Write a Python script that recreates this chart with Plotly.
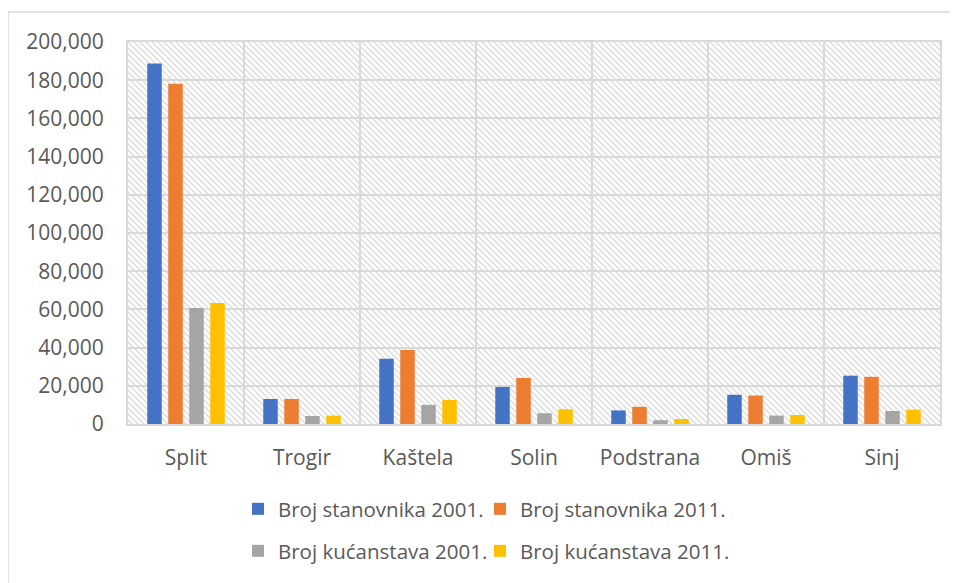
import base64
import plotly.graph_objects as go

categories = ["Split", "Trogir", "Kaštela", "Solin", "Podstrana", "Omiš", "Sinj"]
stanovnika_2001 = [188700, 13100, 34100, 19400, 7100, 15300, 25300]
stanovnika_2011 = [178100, 13100, 38700, 24100, 9000, 14900, 24700]
kucanstava_2001 = [60700, 4200, 10000, 5600, 2000, 4400, 6800]
kucanstava_2011 = [63300, 4400, 12600, 7700, 2600, 4700, 7500]
series_names = ["Broj stanovnika 2001.", "Broj stanovnika 2011.",
                "Broj kućanstava 2001.", "Broj kućanstava 2011."]
series_values = [stanovnika_2001, stanovnika_2011, kucanstava_2001, kucanstava_2011]
colors = ["#4472C4", "#ED7D31", "#A5A5A5", "#FFC000"]

# page body has an 8px margin; figure is placed at (8, 8) of the window
OFF = 8
W, H = 950, 575
ML, MR, MT, MB = 120, 18, 34, 159
PW, PH = W - ML - MR, H - MT - MB


def px2x(px):
    return (px - OFF - ML) / PW


def px2y(py):
    return (OFF + H - MB - py) / PH


# hatched background for the plot area
svg = (
    f'<svg xmlns="http://www.w3.org/2000/svg" width="{PW}" height="{PH}" '
    f'viewBox="0 0 {PW} {PH}" preserveAspectRatio="none">'
    '<defs><pattern id="p" patternUnits="userSpaceOnUse" width="6" height="6">'
    '<path d="M-1,-1 L7,7 M-1,5 L1,7 M5,-1 L7,1" stroke="#d9d9d9" '
    'stroke-width="1.3"/>'
    '</pattern></defs>'
    f'<rect width="{PW}" height="{PH}" fill="white"/>'
    f'<rect width="{PW}" height="{PH}" fill="url(#p)"/></svg>'
)
src = "data:image/svg+xml;base64," + base64.b64encode(svg.encode()).decode()

FONT = "Open Sans"
TXT = "#595959"
GRID = "#d9d9d9"

legend_keys = ["legend", "legend2", "legend3", "legend4"]
legend_pos = [(238, 509), (480, 509), (238, 551), (480, 551)]

fig = go.Figure()
for name, vals, col, lg in zip(series_names, series_values, colors, legend_keys):
    fig.add_trace(go.Bar(x=categories, y=vals, name=name, marker_color=col,
                         marker_line_width=0, legend=lg, showlegend=True))

legend_layout = {}
for lg, (lx, ly) in zip(legend_keys, legend_pos):
    legend_layout[lg] = dict(
        orientation="h", x=px2x(lx), y=px2y(ly), xanchor="left",
        yanchor="middle", font=dict(family=FONT, size=20.5, color=TXT),
        bgcolor="rgba(0,0,0,0)", visible=True)

fig.update_layout(
    width=W, height=H,
    margin=dict(l=ML, r=MR, t=MT, b=MB, pad=0),
    paper_bgcolor="white",
    plot_bgcolor="rgba(0,0,0,0)",
    showlegend=True,
    barmode="group",
    bargap=0.276,
    bargroupgap=0.31,
    font=dict(family=FONT, size=21, color=TXT),
    images=[dict(source=src, xref="paper", yref="paper", x=0, y=1,
                 sizex=1, sizey=1, xanchor="left", yanchor="top",
                 sizing="stretch", layer="below")],
    shapes=[
        dict(type="line", xref="paper", yref="paper",
             x0=px2x(8), x1=px2x(970), y0=px2y(12), y1=px2y(12),
             line=dict(color=GRID, width=1.5)),
        dict(type="line", xref="paper", yref="paper",
             x0=px2x(8), x1=px2x(8), y0=px2y(12), y1=px2y(600),
             line=dict(color=GRID, width=1.5)),
    ],
    **legend_layout,
)
fig.update_xaxes(
    type="category", tickson="boundaries", ticks="",
    showgrid=True, gridcolor=GRID, gridwidth=2,
    showline=True, linecolor=GRID, linewidth=2, mirror=True,
    ticklabelstandoff=14,
    tickfont=dict(family=FONT, size=21, color=TXT),
)
fig.update_yaxes(
    range=[0, 200000], dtick=20000, tickformat=",", ticks="",
    showgrid=True, gridcolor=GRID, gridwidth=2,
    showline=True, linecolor=GRID, linewidth=2, mirror=True,
    zeroline=False,
    ticklabelstandoff=18,
    tickfont=dict(family=FONT, size=21, color=TXT),
)

fig.write_html("out.html")
